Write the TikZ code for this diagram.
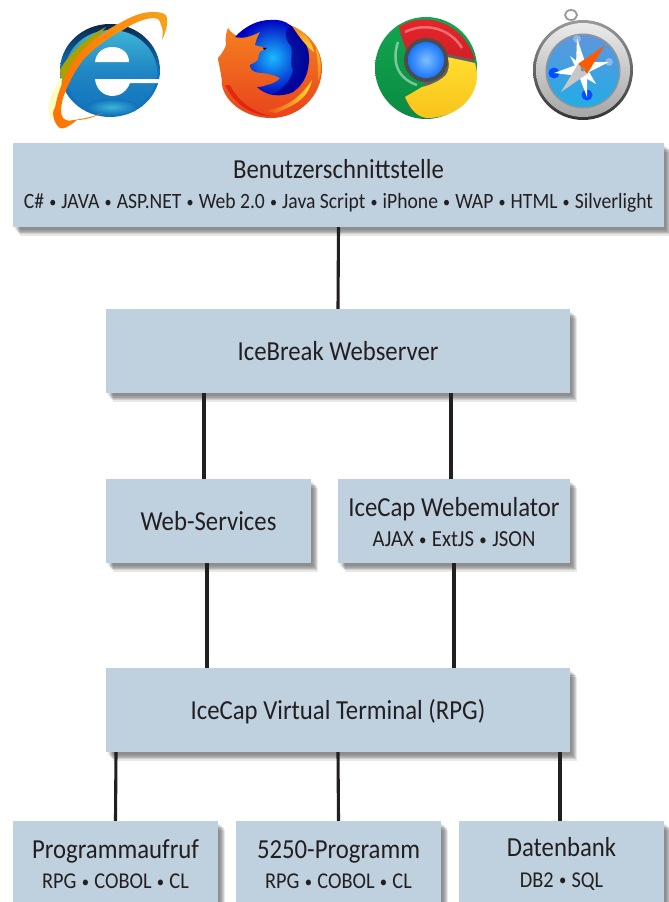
\documentclass[tikz,border=0pt]{standalone}
\usepackage{fontspec}
\setmainfont[FakeStretch=0.9]{Carlito}
\definecolor{boxblue}{HTML}{BFD0DF}
\definecolor{textdark}{HTML}{231F20}
\definecolor{iering}{HTML}{F5A31C}
\definecolor{crgreen}{HTML}{12A650}
\definecolor{crgreend}{HTML}{0C8A42}
\definecolor{crred}{HTML}{E9252B}
\definecolor{crredd}{HTML}{D21F26}
\definecolor{cryel}{HTML}{FFDD2E}
\definecolor{cryeld}{HTML}{F8C31C}
\definecolor{fxo}{HTML}{F58220}
\definecolor{fxr}{HTML}{E8431C}
\definecolor{iedark}{HTML}{0B2748}
\definecolor{iemid}{HTML}{1272BC}
\definecolor{iecyan}{HTML}{3DB4D6}
\definecolor{safblue}{HTML}{5E96DC}
\definecolor{safcyan}{HTML}{22ACE6}
\tikzset{
  layerbox/.style={minimum height=84pt,inner sep=0pt,align=center,text=textdark,font=\fontsize{27.5}{33}\selectfont,
    preaction={draw=none,fill=black,opacity=.03,transform canvas={shift={(1pt,-2pt)}}},
    preaction={draw=none,fill=black,opacity=.05,transform canvas={shift={(2pt,-3pt)}}},
    preaction={draw=none,fill=black,opacity=.07,transform canvas={shift={(3pt,-4pt)}}},
    preaction={draw=none,fill=black,opacity=.09,transform canvas={shift={(4pt,-5pt)}}},
    preaction={draw=none,fill=black,opacity=.11,transform canvas={shift={(5pt,-6pt)}}},
    preaction={draw=none,fill=black,opacity=.11,transform canvas={shift={(6pt,-7pt)}}},
    preaction={draw=none,fill=black,opacity=.09,transform canvas={shift={(7pt,-9pt)}}},
    fill=boxblue},
  link/.style={line width=3.1pt,draw=textdark},
}
\newcommand{\bu}{\kern.7pt\raisebox{.12ex}{\scalebox{.72}{•}}\kern.7pt}
\newcommand{\twolines}[3]{\rule{0pt}{21pt}#1\\[-2.5pt]{\fontsize{#2}{24}\selectfont #3}}
\begin{document}
\begin{tikzpicture}[x=1pt,y=-1pt]
\useasboundingbox (0,0) rectangle (669,902);
\clip (0,0) rectangle (669,902);
\fill[white] (0,0) rectangle (669,902);
% IE
\shade[top color=iedark,bottom color=iemid,middle color=iemid] (110,70.5) ellipse [x radius=50,y radius=46.5];
\shade[top color=iecyan,bottom color=iemid,middle color=iemid!70!iecyan] (111,72) ellipse [x radius=46,y radius=42];
\shade[inner color=iecyan,outer color=iemid] (112,107) ellipse [x radius=26,y radius=8];
\fill[olive!75!yellow] (60,70) .. controls (70,52) and (88,36) .. (106,27) .. controls (92,42) and (78,60) .. (62,88) -- cycle;
\fill[yellow!25] (62,78) .. controls (50,92) and (46,108) .. (51,120) -- (59,106) -- cycle;
\fill[white] (95,62) .. controls (96,52) and (104,47) .. (112,47) .. controls (122,47) and (129,53) .. (129,62) -- cycle;
\fill[white] (95,79) -- (160,79) -- (159.5,83) -- (130,83) .. controls (127,91) and (120,96) .. (113,96) .. controls (103,96) and (96,89) .. (95,79) -- cycle;
\shade[left color=orange!90!red,right color=iering] (103,113) .. controls (92,118) and (84,120) .. (77,120) .. controls (70,126) and (62,130) .. (60,128) .. controls (52,122) and (52,110) .. (55,108) .. controls (58,90) and (66,74) .. (73,62) .. controls (88,42) and (104,31) .. (120,23) .. controls (135,14) and (145,12) .. (153,12) .. controls (162,12) and (167,14) .. (167,18) .. controls (168,26) and (165,34) .. (162,40) .. controls (163,33) and (163,28) .. (161,25) .. controls (160,20) and (158,18) .. (153,18) .. controls (142,19) and (132,24) .. (123,30) .. controls (108,38) and (94,48) .. (83,60) .. controls (74,72) and (68,84) .. (63,98) .. controls (61,106) and (60,114) .. (63,118) .. controls (66,121) and (70,121) .. (73,120) .. controls (84,119) and (94,116) .. (103,113) -- cycle;
% Firefox
\shade[top color=fxo,bottom color=fxr] (228,28) .. controls (231,33) and (236,36) .. (240,37) -- (290,25) .. controls (310,33) and (322,50) .. (322,68) .. controls (322,96) and (299,118) .. (271,118) .. controls (245,118) and (225,102) .. (222,85) .. controls (222,76) and (219,66) .. (218,58) .. controls (222,54) and (225,48) .. (226,45) .. controls (225,38) and (226,33) .. (228,28) -- cycle;
\shade[inner color=cyan!70!blue!90,outer color=blue!75!black,shading=radial] (235,37) .. controls (245,26) and (258,20) .. (270,20) .. controls (278,19) and (285,21) .. (290,25) .. controls (297,30) and (304,38) .. (308,50) .. controls (310,58) and (309,66) .. (307,73) .. controls (304,82) and (299,88) .. (293,92) .. controls (287,95) and (280,96) .. (273,95) .. controls (267,94) and (261,91) .. (257,87) .. controls (262,87) and (265,86) .. (267,85) .. controls (272,84) and (277,82) .. (280,78) .. controls (275,75) and (268,74) .. (263,73) .. controls (258,73) and (254,72) .. (252,70) .. controls (250,68) and (250,66) .. (250,65) .. controls (254,63) and (256,62) .. (258,60) .. controls (258,57) and (259,54) .. (260,52) .. controls (262,51) and (265,49) .. (267,48) .. controls (262,47) and (258,46) .. (255,45) .. controls (256,40) and (258,36) .. (260,32) .. controls (256,34) and (251,36) .. (247,37) .. controls (243,38) and (239,38) .. (235,37) -- cycle;
\fill[black] (263,47.5) -- (267,48) -- (264,50) -- cycle;
\fill[blue!55!black,opacity=.75] (290,25) .. controls (300,32) and (305,42) .. (308,50) .. controls (310,62) and (307,78) .. (293,92) .. controls (285,95) and (275,95) .. (273,95) .. controls (282,88) and (290,84) .. (293,70) .. controls (288,62) and (296,50) .. (288,42) .. controls (284,34) and (286,30) .. (290,25) -- cycle;
\shade[left color=fxr,right color=cryel] (262,110) .. controls (284,110) and (300,98) .. (312,80) .. controls (308,100) and (292,106) .. (276,113) -- cycle;
\shade[top color=fxo,bottom color=cryel] (292,26) .. controls (304,30) and (312,42) .. (314,52) .. controls (306,46) and (300,38) .. (292,26) -- cycle;
\shade[top color=cryel!70!fxo,bottom color=fxo] (316,48) .. controls (322,60) and (322,72) .. (318,82) .. controls (318,70) and (318,60) .. (316,48) -- cycle;
\fill[red!85!black,opacity=.5] (230,85) .. controls (240,105) and (258,114) .. (272,116) .. controls (252,116) and (234,104) .. (225,85) -- cycle;
% Chrome
\shade[top color=crgreen,bottom color=crgreend] (426,68) circle[radius=51];
\fill[black!62] (398,29) -- (408,54) -- (425,86) -- (405,97) -- (410,110) -- (430,100) -- (448,72) -- (476,62) -- (445,48) -- (405,40) -- cycle;
\shade[top color=crred,bottom color=crredd] (399,27) .. controls (420,12) and (462,18) .. (475,60) -- (447,54) .. controls (435,44) and (418,44) .. (407,52) -- cycle;
\shade[top color=cryel,bottom color=cryeld] (475,63) .. controls (484,90) and (462,118) .. (427,118) .. controls (419,117) and (412,113) .. (405,97) -- (422,87) .. controls (435,84) and (444,78) .. (447,73) .. controls (450,66) and (449,60) .. (447,57) -- cycle;
\draw[line width=2.5pt,white,opacity=.45] (398,42) .. controls (392,60) and (396,78) .. (417,85);
\draw[line width=2.5pt,white,opacity=.35] (405,32) .. controls (425,22) and (450,28) .. (462,48);
\fill[black!70] (426,60) circle[radius=22];
\shade[inner color=cyan!50!blue!50,outer color=blue!60!cyan!90] (426,60) circle[radius=18];
% Safari
\draw[line width=1.8pt,black!40] (571,15) ellipse [x radius=6,y radius=5];
\shade[top color=black!40,bottom color=black!80] (583,70) circle[radius=50];
\shade[top color=black!8,bottom color=black!35] (583,70) circle[radius=47];
\fill[black!42] (583,71) circle[radius=37.5];
\shade[top color=safblue,bottom color=safcyan,middle color=safblue!50!safcyan] (583,71) circle[radius=36];
\fill[blue!70!cyan] (554,73) circle[radius=5.5] (587,95) circle[radius=5.5];
\fill[safblue!70!white] (577,39) circle[radius=4] (609,62) circle[radius=4];
\fill[white] (577,38) -- (585,62) -- (609,62) -- (587,73) -- (587,97) -- (579,76) -- (554,73) -- (576,65) -- cycle;
\fill[white] (570,56) -- (583,66) -- (594,56) -- (588,70) -- (596,84) -- (582,76) -- (570,84) -- (577,70) -- cycle;
\fill[orange!70!red] (605,45) -- (587,74) -- (578,64) -- cycle;
\fill[black!22] (561,92) -- (587,74) -- (578,64) -- cycle;
\fill[black!45] (583,69) circle[radius=2.5];
% Boxes
\node[layerbox,minimum width=651pt] (ui) at (338.5,185) {\twolines{Benutzerschnittstelle}{21.8}{C\# \bu{} JAVA \bu{} ASP.NET \bu{} Web 2.0 \bu{} Java Script \bu{} iPhone \bu{} WAP \bu{} HTML \bu{} Silverlight}};
\node[layerbox,minimum width=464pt] (web) at (338,351) {IceBreak Webserver};
\node[layerbox,minimum width=205pt] (ws) at (208.5,521) {Web-Services};
\node[layerbox,minimum width=232pt] (emu) at (454,521) {\twolines{IceCap Webemulator}{23}{AJAX \bu{} ExtJS \bu{} JSON}};
\node[layerbox,minimum width=464pt] (vt) at (338,710) {\rule{0pt}{24pt}IceCap Virtual Terminal (RPG)};
\node[layerbox,minimum width=205pt] (pa) at (115.5,863) {\twolines{Programmaufruf}{22.6}{RPG \bu{} COBOL \bu{} CL}};
\node[layerbox,minimum width=205pt] (pg) at (338.5,863) {\twolines{5250-Programm}{22.6}{RPG \bu{} COBOL \bu{} CL}};
\node[layerbox,minimum width=205pt] (db) at (561.5,863) {\twolines{Datenbank}{22.6}{DB2 \bu{} SQL}};
% Connectors
\draw[link] (ui.south) -- (web.north);
\draw[link] ([xshift=-134pt]web.south) -- ([xshift=-4.5pt]ws.north);
\draw[link] ([xshift=113pt]web.south) -- ([xshift=-3pt]emu.north);
\draw[link] ([xshift=-1.5pt]ws.south) -- ([xshift=-131pt]vt.north);
\draw[link] (emu.south) -- ([xshift=116pt]vt.north);
\draw[link] ([xshift=-222pt]vt.south) -- (pa.north);
\draw[link] (vt.south) -- (pg.north);
\draw[link] ([xshift=222pt]vt.south) -- ([xshift=-1.5pt]db.north);
\end{tikzpicture}
\end{document}
